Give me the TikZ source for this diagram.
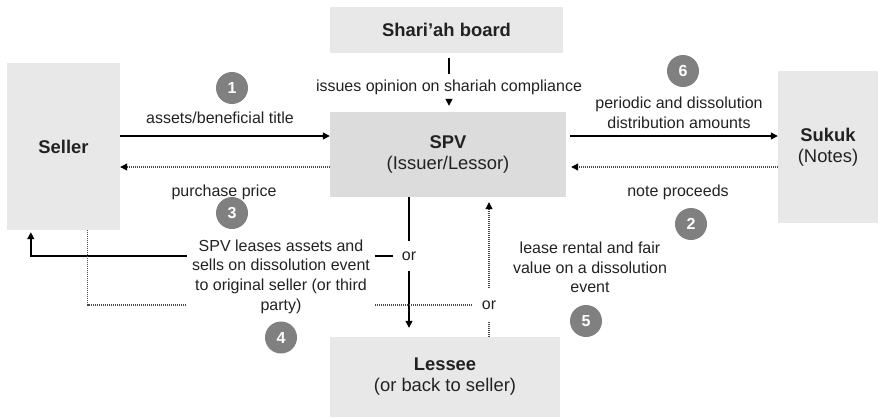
\documentclass[tikz,border=0pt]{standalone}
\usepackage{fontspec}
\setmainfont{Liberation Sans}
\usetikzlibrary{arrows.meta,calc}

\definecolor{boxgray}{HTML}{E8E8E8}
\definecolor{spvgray}{HTML}{DCDCDC}
\definecolor{stepgray}{HTML}{808080}
\definecolor{ink}{HTML}{222222}
\definecolor{dotgray}{HTML}{4A4A4A}

\newcommand\partyfont{\fontsize{18.4bp}{21bp}\selectfont}
\newcommand\labelfont{\fontsize{16bp}{19.7bp}\selectfont}

\begin{document}
\begin{tikzpicture}[x=1bp,y=-1bp,
  party/.style={fill=boxgray, draw=none, inner sep=0pt, align=center,
                text=ink, font=\partyfont},
  lbl/.style={align=center, text=ink, font=\labelfont, inner sep=2bp},
  orlbl/.style={text=ink, font=\labelfont, text height=11.5bp, text depth=3.5bp},
  stepnum/.style={circle, fill=stepgray, minimum size=32bp, inner sep=0pt,
                  text=white, font=\bfseries\fontsize{16bp}{16bp}\selectfont},
  tip/.style={-{Triangle[length=7bp,width=7bp,color=black]}},
  flow/.style={draw=black, line width=1.4bp, tip},
  solid line/.style={draw=black, line width=1.4bp},
  dots/.style={draw=dotgray, line width=1.1bp, dash pattern=on 1bp off 1bp},
  back/.style={dots, tip},
]
\useasboundingbox (0,0) rectangle (882,418);

% parties
\node[party, minimum width=113bp, minimum height=167bp] (seller) at (63.5,146.5) {\textbf{Seller}};
\node[party, minimum width=233bp, minimum height=46bp] (shariah) at (446.5,30) {\textbf{Shari’ah board}};
\node[party, fill=spvgray, minimum width=236bp, minimum height=85bp] (spv) at (448,154.5) {\textbf{SPV}\\(Issuer/Lessor)};
\node[party, minimum width=100bp, minimum height=152bp] (sukuk) at (828,147) {\textbf{Sukuk}\\(Notes)};
\node[party, minimum width=230bp, minimum height=80bp] (lessee) at (445,377) {\textbf{Lessee}\\(or back to seller)};

% flow labels
\node[lbl] (assets) at (220,118) {assets/beneficial title};
\node[lbl] (price) at (224,192) {purchase price};
\node[lbl, inner ysep=4bp] (issue) at (449,87) {issues opinion on shariah compliance};
\node[lbl] (periodic) at (679,113) {periodic and dissolution\\distribution amounts};
\node[lbl] (proceeds) at (678,192) {note proceeds};
\node[lbl, inner xsep=5bp] (leases) at (281,276.5) {SPV leases assets and\\sells on dissolution event\\to original seller (or third\\party)};
\node[lbl] (rental) at (590,267.5) {lease rental and fair\\value on a dissolution\\event};
\node[orlbl, inner xsep=9bp, inner ysep=7.5bp] (or1) at (409,256) {or};
\node[orlbl, inner xsep=10bp, inner ysep=9.5bp] (or2) at (489,305) {or};

% step numbers
\node[stepnum] (n1) at (232,88) {1};
\node[stepnum] (n2) at (691,224) {2};
\node[stepnum] (n3) at (232,213) {3};
\node[stepnum] (n4) at (281,337.5) {4};
\node[stepnum] (n5) at (586,321) {5};
\node[stepnum] (n6) at (683,71) {6};

% seller <-> SPV
\draw[flow] (seller.east |- 0,136) -- (spv.west |- 0,136);
\draw[back] (spv.west |- 0,167) -- (seller.east |- 0,167);

% SPV <-> sukuk holders
\draw[flow, shorten <=4bp] (spv.east |- 0,136) -- (sukuk.west |- 0,136);
\draw[back, shorten >=5bp] (sukuk.west |- 0,167) -- (spv.east |- 0,167);

% shariah board opinion
\draw[solid line, shorten <=5bp, shorten >=1bp] (issue |- shariah.south) -- (issue.north);
\draw[flow, shorten >=6bp] (issue.south) -- (issue |- spv.north);

% SPV leases / sells to lessee or back to seller
\draw[solid line] (or1 |- spv.south) -- (or1.north);
\draw[flow, shorten >=9bp] (or1.south) -- (or1 |- lessee.north);
\draw[solid line] (or1.west) -- (leases.east |- or1);
\draw[flow, shorten >=2bp] (leases.west |- or1) -| ($(seller.south west)+(24,0)$);

% rental and fair value back to SPV
\draw[dots] ($(seller.south west)+(81,0)$) |- (leases.west |- or2);
\draw[dots] (leases.east |- or2) -- (or2.west);
\draw[back, shorten >=5bp] (or2.north) -- (or2 |- spv.south);
\draw[dots] (lessee.north -| or2) -- (or2.south);
\end{tikzpicture}
\end{document}
